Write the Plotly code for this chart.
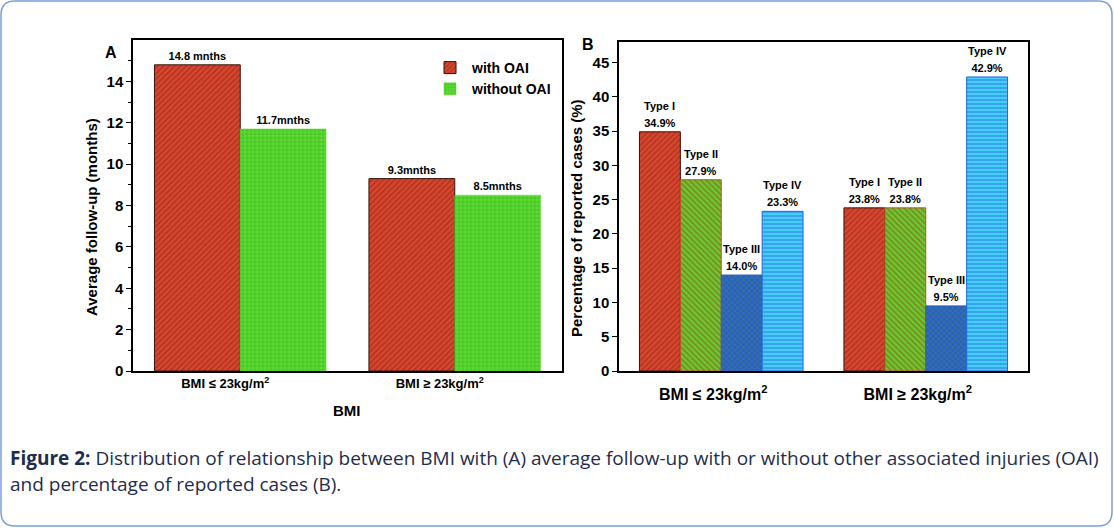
import plotly.graph_objects as go

W, H = 1114, 528

# ---------------- data ----------------
categories = ["BMI ≤ 23kg/m2", "BMI ≥ 23kg/m2"]
tick_labels = ["BMI ≤ 23kg/m<sup>2</sup>", "BMI ≥ 23kg/m<sup>2</sup>"]

# Panel A: average follow-up (months)
followup_with_oai = [14.8, 9.3]
followup_without_oai = [11.7, 8.5]
labels_with_oai = ["14.8 mnths", "9.3mnths"]
labels_without_oai = ["11.7mnths", "8.5mnths"]
a_ticks = [0, 2, 4, 6, 8, 10, 12, 14]
a_minor_ticks = [1, 3, 5, 7, 9, 11, 13, 15]

# Panel B: percentage of reported cases
type_names = ["Type I", "Type II", "Type III", "Type IV"]
type_I = [34.9, 23.8]
type_II = [27.9, 23.8]
type_III = [14.0, 9.5]
type_IV = [23.3, 42.9]
b_ticks = [0, 5, 10, 15, 20, 25, 30, 35, 40, 45]

# ---------------- helpers ----------------
def px_x(p):
    return p / W

def px_y(p):
    return 1 - p / H

AX_FONT = dict(family="Arial", size=15, color="black", weight="bold")

fig = go.Figure()

# ---------------- Panel A ----------------
fig.add_trace(go.Bar(
    x=categories, y=followup_with_oai, name="with OAI",
    text=labels_with_oai, textposition="outside", constraintext="none",
    textfont=dict(family="Arial", size=11, color="black", weight="bold"),
    marker=dict(color="#d9472f", line=dict(color="#3a1208", width=1),
                pattern=dict(shape="/", fgcolor="#8a2212", size=4, solidity=0.45, fillmode="overlay")),
    xaxis="x", yaxis="y", cliponaxis=False,
))
fig.add_trace(go.Bar(
    x=categories, y=followup_without_oai, name="without OAI",
    text=labels_without_oai, textposition="outside", constraintext="none",
    textfont=dict(family="Arial", size=11, color="black", weight="bold"),
    marker=dict(color="#5ddc32", line=dict(color="#5ddc32", width=0.5),
                pattern=dict(shape="+", fgcolor="#2f9a1c", size=4, solidity=0.35, fillmode="overlay")),
    xaxis="x", yaxis="y", cliponaxis=False,
))

# ---------------- Panel B ----------------
b_series = [type_I, type_II, type_III, type_IV]
b_styles = [
    dict(color="#d9472f", fg="#8a2212", shape="/", line="#3a1208"),
    dict(color="#66cc2e", fg="#9a3a1a", shape="\\", line="#c0502a"),
    dict(color="#2c5ec4", fg="#3f9a55", shape="x", line="#2c5ec4"),
    dict(color="#48cdf8", fg="#1e66e0", shape="-", line="#1e66e0"),
]
for name, vals, st in zip(type_names, b_series, b_styles):
    fig.add_trace(go.Bar(
        x=categories, y=vals, name=name, showlegend=False,
        text=[f"{v:.1f}%" for v in vals], textposition="outside", constraintext="none",
        textfont=dict(family="Arial", size=11, color="black", weight="bold"),
        marker=dict(color=st["color"], line=dict(color=st["line"], width=1),
                    pattern=dict(shape=st["shape"], fgcolor=st["fg"], size=4, solidity=0.4,
                                 fillmode="overlay")),
        xaxis="x2", yaxis="y2", cliponaxis=False,
    ))

annotations = []
n_types = len(type_names)
slot = 0.8 / n_types
for j, (name, vals) in enumerate(zip(type_names, b_series)):
    for i, v in enumerate(vals):
        annotations.append(dict(
            x=i + (j - (n_types - 1) / 2) * slot, y=v, xref="x2", yref="y2",
            text=f"<b>{name}</b>", showarrow=False, xanchor="center", yanchor="middle", yshift=26,
            font=dict(family="Arial", size=11, color="black"),
        ))

def note(x, y, text, size, angle=0, **kw):
    d = dict(x=px_x(x), y=px_y(y), xref="paper", yref="paper", text=text, showarrow=False,
             xanchor="center", yanchor="middle", textangle=angle,
             font=dict(family="Arial", size=size, color="black"))
    d.update(kw)
    return d

CAP_FONT = dict(family="Open Sans", size=19, color="#1f2d4d")
annotations += [
    note(111, 52, "<b>A</b>", 16),
    note(588, 45, "<b>B</b>", 16),
    note(91, 217, "<b>Average follow-up (months)</b>", 15, -90),
    note(577, 218, "<b>Percentage of reported cases (%)</b>", 15, -90),
    note(347, 410, "<b>BMI</b>", 15),
    note(8, 458, "<b>Figure 2:</b> Distribution of relationship between BMI with (A) average follow-up with or without other associated injuries (OAI)",
         19, xanchor="left", font=CAP_FONT),
    note(8, 484, "and percentage of reported cases (B).", 19, xanchor="left", font=CAP_FONT),
]

# rounded frame
x0, x1, y0, y1, r = 1, 1112, 1, 526, 14
def P(x, y):
    return f"{px_x(x):.5f},{px_y(y):.5f}"
frame_path = (f"M{P(x0 + r, y0)} L{P(x1 - r, y0)} Q{P(x1, y0)} {P(x1, y0 + r)} "
              f"L{P(x1, y1 - r)} Q{P(x1, y1)} {P(x1 - r, y1)} L{P(x0 + r, y1)} "
              f"Q{P(x0, y1)} {P(x0, y1 - r)} L{P(x0, y0 + r)} Q{P(x0, y0)} {P(x0 + r, y0)} Z")

common_x = dict(type="category", range=[-0.5, 1.5], showline=True, linecolor="black", linewidth=1.5,
                mirror=True, ticks="", showgrid=False, zeroline=False, automargin=False,
                tickvals=categories, ticktext=[f"<b>{t}</b>" for t in tick_labels])
common_y = dict(showline=True, linecolor="black", linewidth=1.5, mirror=True, ticks="outside",
                ticklen=5, tickwidth=1.2, tickcolor="black", showgrid=False, zeroline=False,
                tickfont=AX_FONT, automargin=False, tickmode="array")

fig.update_layout(
    width=W, height=H, margin=dict(l=0, r=0, t=0, b=0, autoexpand=False),
    paper_bgcolor="white", plot_bgcolor="white",
    barmode="group", bargap=0.2, bargroupgap=0,
    xaxis=dict(domain=[px_x(133), px_x(562)], anchor="y",
               tickfont=dict(family="Arial", size=13, color="black"), ticklabelshift=-15, **common_x),
    yaxis=dict(domain=[px_y(371), px_y(40)], anchor="x", range=[0, 16], tickvals=a_ticks,
               minor=dict(tickmode="array", tickvals=a_minor_ticks, ticks="outside", ticklen=3,
                          tickcolor="black"), **common_y),
    xaxis2=dict(domain=[px_x(619), px_x(1028)], anchor="y2",
                tickfont=dict(family="Arial", size=16, color="black"), ticklabelshift=-8,
                ticklabelstandoff=8, **common_x),
    yaxis2=dict(domain=[px_y(371), px_y(42)], anchor="x2", range=[0, 48], tickvals=b_ticks, **common_y),
    legend=dict(x=px_x(428), y=px_y(52), xanchor="left", yanchor="top",
                bgcolor="rgba(0,0,0,0)", font=dict(family="Arial", size=14, color="black", weight="bold"),
                itemwidth=34, tracegroupgap=2),
    annotations=annotations,
    shapes=[dict(type="path", path=frame_path, xref="paper", yref="paper",
                 line=dict(color="#7a9fd6", width=1.5))],
    showlegend=True,
)

fig.write_html("out.html", config={"displayModeBar": False},
               post_script="document.body.style.margin='0';document.body.style.overflow='hidden';")
